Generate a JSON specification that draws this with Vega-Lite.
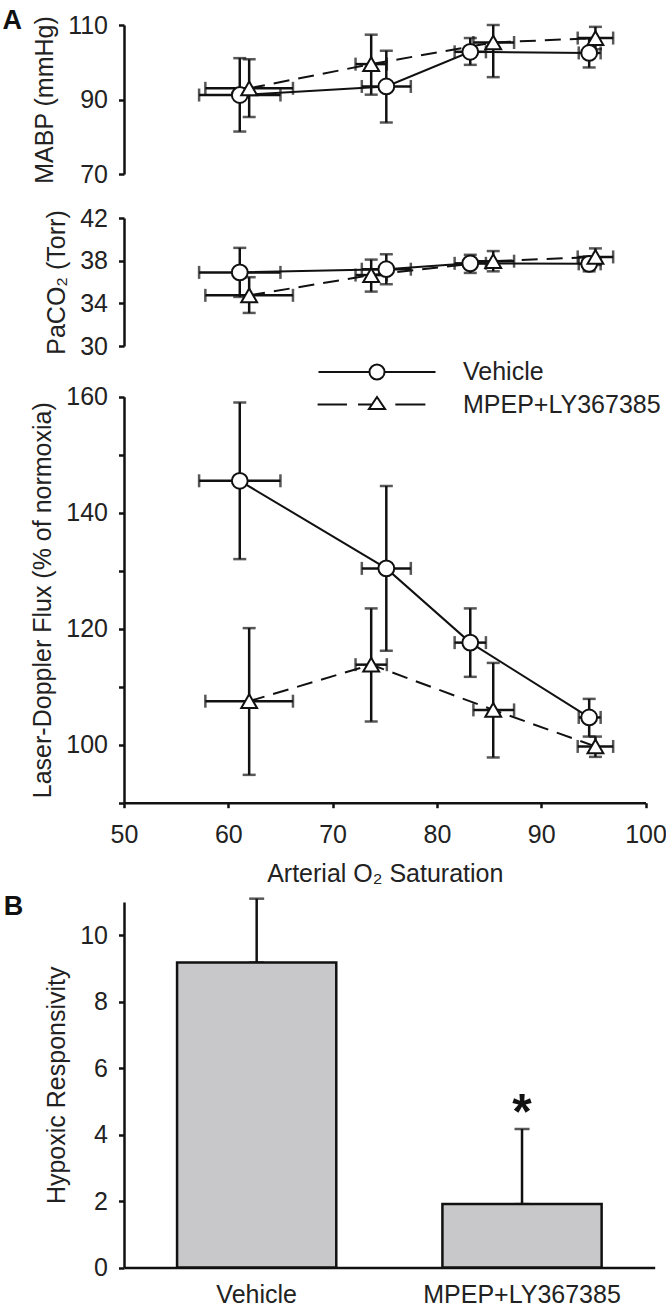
{
  "$schema": "https://vega.github.io/schema/vega-lite/v6.json",
  "padding": {"left": 2, "top": 6, "right": 5, "bottom": 5},
  "background": "white",
  "datasets": {
    "series": [
      {"g": "Vehicle", "sat": 61.1, "sat_lo": 57.2, "sat_hi": 65.0, "mabp": 91.2, "mabp_lo": 81.4, "mabp_hi": 101.1, "paco2": 36.9, "paco2_lo": 34.6, "paco2_hi": 39.2, "flux": 145.5, "flux_lo": 132.0, "flux_hi": 159.0},
      {"g": "Vehicle", "sat": 75.15, "sat_lo": 72.8, "sat_hi": 77.5, "mabp": 93.5, "mabp_lo": 83.8, "mabp_hi": 103.1, "paco2": 37.2, "paco2_lo": 35.8, "paco2_hi": 38.6, "flux": 130.4, "flux_lo": 116.2, "flux_hi": 144.6},
      {"g": "Vehicle", "sat": 83.2, "sat_lo": 81.7, "sat_hi": 84.7, "mabp": 102.8, "mabp_lo": 99.3, "mabp_hi": 106.5, "paco2": 37.75, "paco2_lo": 36.85, "paco2_hi": 38.55, "flux": 117.6, "flux_lo": 111.7, "flux_hi": 123.5},
      {"g": "Vehicle", "sat": 94.6, "sat_lo": 93.6, "sat_hi": 95.7, "mabp": 102.5, "mabp_lo": 98.6, "mabp_hi": 106.4, "paco2": 37.7, "paco2_lo": 37.0, "paco2_hi": 38.4, "flux": 104.7, "flux_lo": 101.4, "flux_hi": 107.9},
      {"g": "MPEP+LY367385", "sat": 62.0, "sat_lo": 57.8, "sat_hi": 66.2, "mabp": 93.0, "mabp_lo": 85.3, "mabp_hi": 100.8, "paco2": 34.75, "paco2_lo": 33.1, "paco2_hi": 36.45, "flux": 107.5, "flux_lo": 94.8, "flux_hi": 120.1},
      {"g": "MPEP+LY367385", "sat": 73.7, "sat_lo": 72.2, "sat_hi": 75.2, "mabp": 99.5, "mabp_lo": 91.3, "mabp_hi": 107.4, "paco2": 36.65, "paco2_lo": 35.1, "paco2_hi": 38.1, "flux": 113.8, "flux_lo": 104.0, "flux_hi": 123.5},
      {"g": "MPEP+LY367385", "sat": 85.4, "sat_lo": 83.5, "sat_hi": 87.4, "mabp": 105.3, "mabp_lo": 96.0, "mabp_hi": 110.0, "paco2": 37.95, "paco2_lo": 37.0, "paco2_hi": 38.9, "flux": 106.0, "flux_lo": 97.8, "flux_hi": 114.1},
      {"g": "MPEP+LY367385", "sat": 95.2, "sat_lo": 93.5, "sat_hi": 96.9, "mabp": 106.5, "mabp_lo": 103.5, "mabp_hi": 109.5, "paco2": 38.35, "paco2_lo": 37.6, "paco2_hi": 39.15, "flux": 99.7, "flux_lo": 97.9, "flux_hi": 101.4}
    ],
    "bars": [
      {"g": "Vehicle", "val": 9.18, "hi": 11.1, "sig": ""},
      {"g": "MPEP+LY367385", "val": 1.91, "hi": 4.17, "sig": "*"}
    ]
  },
  "data": {"name": "series"},
  "bounds": "flush",
  "spacing": 44,
  "resolve": {"scale": {"shape": "independent", "stroke": "independent"}, "legend": {"shape": "independent", "stroke": "independent"}},
  "vconcat": [
    {
      "width": 521.5,
      "height": 149,
      "title": {"text": "A", "anchor": "start", "frame": "group", "orient": "top", "fontSize": 27, "fontWeight": "bold", "font": "Liberation Sans", "baseline": "alphabetic", "offset": 0, "dx": -121.5, "dy": 42.5, "color": "#111"},
      "layer": [
        {
          "mark": {"type": "errorbar", "ticks": {"size": 13, "thickness": 2.5, "color": "#111"}, "rule": {"strokeWidth": 2.5, "color": "#111"}},
          "encoding": {
            "x": {"field": "sat", "type": "quantitative", "scale": {"domain": [50, 100], "nice": false, "zero": false}, "axis": null},
            "y": {"field": "mabp_lo", "type": "quantitative", "title": "MABP (mmHg)", "scale": {"domain": [70, 110], "nice": false, "zero": false}, "axis": {"values": [70, 75, 80, 85, 90, 95, 100, 105, 110], "labelExpr": "datum.value % 10 === 0 ? datum.label : ''"}},
            "y2": {"field": "mabp_hi"}
          }
        },
        {
          "mark": {"type": "errorbar", "ticks": {"size": 13, "thickness": 2.5, "color": "#111"}, "rule": {"strokeWidth": 2.5, "color": "#111"}},
          "encoding": {
            "x": {"field": "sat_lo", "type": "quantitative", "scale": {"domain": [50, 100], "nice": false, "zero": false}, "axis": null},
            "x2": {"field": "sat_hi"},
            "y": {"field": "mabp", "type": "quantitative", "title": "MABP (mmHg)", "scale": {"domain": [70, 110], "nice": false, "zero": false}}
          }
        },
        {
          "transform": [{"filter": "datum.g === 'Vehicle'"}],
          "mark": {"type": "line", "color": "#111", "strokeWidth": 2},
          "encoding": {
            "x": {"field": "sat", "type": "quantitative", "scale": {"domain": [50, 100], "nice": false, "zero": false}, "axis": null},
            "y": {"field": "mabp", "type": "quantitative", "title": "MABP (mmHg)", "scale": {"domain": [70, 110], "nice": false, "zero": false}}
          }
        },
        {
          "transform": [{"filter": "datum.g !== 'Vehicle'"}],
          "mark": {"type": "line", "color": "#111", "strokeWidth": 2, "strokeDash": [16, 9]},
          "encoding": {
            "x": {"field": "sat", "type": "quantitative", "scale": {"domain": [50, 100], "nice": false, "zero": false}, "axis": null},
            "y": {"field": "mabp", "type": "quantitative", "title": "MABP (mmHg)", "scale": {"domain": [70, 110], "nice": false, "zero": false}}
          }
        },
        {
          "mark": {"type": "point", "filled": true, "fill": "white", "stroke": "#111", "strokeWidth": 2, "size": 250, "opacity": 1},
          "encoding": {
            "x": {"field": "sat", "type": "quantitative", "scale": {"domain": [50, 100], "nice": false, "zero": false}, "axis": null},
            "y": {"field": "mabp", "type": "quantitative", "title": "MABP (mmHg)", "scale": {"domain": [70, 110], "nice": false, "zero": false}},
            "shape": {"field": "g", "type": "nominal", "scale": {"domain": ["Vehicle", "MPEP+LY367385"], "range": ["circle", "triangle-up"]}, "legend": null}
          }
        }
      ]
    },
    {
      "width": 521.5,
      "height": 128,
      "layer": [
        {
          "mark": {"type": "errorbar", "ticks": {"size": 13, "thickness": 2.5, "color": "#111"}, "rule": {"strokeWidth": 2.5, "color": "#111"}},
          "encoding": {
            "x": {"field": "sat", "type": "quantitative", "scale": {"domain": [50, 100], "nice": false, "zero": false}, "axis": null},
            "y": {"field": "paco2_lo", "type": "quantitative", "title": "PaCO₂ (Torr)", "scale": {"domain": [30, 42], "nice": false, "zero": false}, "axis": {"values": [30, 32, 34, 36, 38, 40, 42], "labelExpr": "(datum.value - 30) % 4 === 0 ? datum.label : ''"}},
            "y2": {"field": "paco2_hi"}
          }
        },
        {
          "mark": {"type": "errorbar", "ticks": {"size": 13, "thickness": 2.5, "color": "#111"}, "rule": {"strokeWidth": 2.5, "color": "#111"}},
          "encoding": {
            "x": {"field": "sat_lo", "type": "quantitative", "scale": {"domain": [50, 100], "nice": false, "zero": false}, "axis": null},
            "x2": {"field": "sat_hi"},
            "y": {"field": "paco2", "type": "quantitative", "title": "PaCO₂ (Torr)", "scale": {"domain": [30, 42], "nice": false, "zero": false}}
          }
        },
        {
          "transform": [{"filter": "datum.g === 'Vehicle'"}],
          "mark": {"type": "line", "color": "#111", "strokeWidth": 2},
          "encoding": {
            "x": {"field": "sat", "type": "quantitative", "scale": {"domain": [50, 100], "nice": false, "zero": false}, "axis": null},
            "y": {"field": "paco2", "type": "quantitative", "title": "PaCO₂ (Torr)", "scale": {"domain": [30, 42], "nice": false, "zero": false}}
          }
        },
        {
          "transform": [{"filter": "datum.g !== 'Vehicle'"}],
          "mark": {"type": "line", "color": "#111", "strokeWidth": 2, "strokeDash": [16, 9]},
          "encoding": {
            "x": {"field": "sat", "type": "quantitative", "scale": {"domain": [50, 100], "nice": false, "zero": false}, "axis": null},
            "y": {"field": "paco2", "type": "quantitative", "title": "PaCO₂ (Torr)", "scale": {"domain": [30, 42], "nice": false, "zero": false}}
          }
        },
        {
          "mark": {"type": "point", "filled": true, "fill": "white", "stroke": "#111", "strokeWidth": 2, "size": 250, "opacity": 1},
          "encoding": {
            "x": {"field": "sat", "type": "quantitative", "scale": {"domain": [50, 100], "nice": false, "zero": false}, "axis": null},
            "y": {"field": "paco2", "type": "quantitative", "title": "PaCO₂ (Torr)", "scale": {"domain": [30, 42], "nice": false, "zero": false}},
            "shape": {"field": "g", "type": "nominal", "scale": {"domain": ["Vehicle", "MPEP+LY367385"], "range": ["circle", "triangle-up"]}, "legend": null}
          }
        }
      ]
    },
    {
      "width": 521.5,
      "height": 412.7,
      "resolve": {"scale": {"stroke": "independent"}, "legend": {"stroke": "independent"}},
      "layer": [
        {
          "mark": {"type": "errorbar", "ticks": {"size": 13, "thickness": 2.5, "color": "#111"}, "rule": {"strokeWidth": 2.5, "color": "#111"}},
          "encoding": {
            "x": {"field": "sat", "type": "quantitative", "title": "Arterial O₂ Saturation", "scale": {"domain": [50, 100], "nice": false, "zero": false}, "axis": {"values": [50, 60, 70, 80, 90, 100], "tickSize": 5, "labelPadding": 15, "titlePadding": 14}},
            "y": {"field": "flux_lo", "type": "quantitative", "title": "Laser-Doppler Flux (% of normoxia)", "scale": {"domain": [90, 160], "nice": false, "zero": false, "range": [412.7, 6.7]}, "axis": {"values": [90, 100, 110, 120, 130, 140, 150, 160], "labelExpr": "datum.value % 20 === 0 ? datum.label : ''"}},
            "y2": {"field": "flux_hi"}
          }
        },
        {
          "mark": {"type": "errorbar", "ticks": {"size": 13, "thickness": 2.5, "color": "#111"}, "rule": {"strokeWidth": 2.5, "color": "#111"}},
          "encoding": {
            "x": {"field": "sat_lo", "type": "quantitative", "title": "Arterial O₂ Saturation", "scale": {"domain": [50, 100], "nice": false, "zero": false}},
            "x2": {"field": "sat_hi"},
            "y": {"field": "flux", "type": "quantitative", "title": "Laser-Doppler Flux (% of normoxia)", "scale": {"domain": [90, 160], "nice": false, "zero": false, "range": [412.7, 6.7]}}
          }
        },
        {
          "transform": [{"filter": "datum.g === 'Vehicle'"}],
          "mark": {"type": "line", "color": "#111", "strokeWidth": 2},
          "encoding": {
            "x": {"field": "sat", "type": "quantitative", "title": "Arterial O₂ Saturation", "scale": {"domain": [50, 100], "nice": false, "zero": false}},
            "y": {"field": "flux", "type": "quantitative", "title": "Laser-Doppler Flux (% of normoxia)", "scale": {"domain": [90, 160], "nice": false, "zero": false, "range": [412.7, 6.7]}}
          }
        },
        {
          "transform": [{"filter": "datum.g !== 'Vehicle'"}],
          "mark": {"type": "line", "color": "#111", "strokeWidth": 2, "strokeDash": [16, 9]},
          "encoding": {
            "x": {"field": "sat", "type": "quantitative", "title": "Arterial O₂ Saturation", "scale": {"domain": [50, 100], "nice": false, "zero": false}},
            "y": {"field": "flux", "type": "quantitative", "title": "Laser-Doppler Flux (% of normoxia)", "scale": {"domain": [90, 160], "nice": false, "zero": false, "range": [412.7, 6.7]}}
          }
        },
        {
          "transform": [{"filter": "datum.g === 'Vehicle'"}],
          "mark": {"type": "point", "shape": "circle", "filled": true, "fill": "white", "strokeWidth": 2, "size": 250, "opacity": 1},
          "encoding": {
            "x": {"field": "sat", "type": "quantitative", "title": "Arterial O₂ Saturation", "scale": {"domain": [50, 100], "nice": false, "zero": false}},
            "y": {"field": "flux", "type": "quantitative", "title": "Laser-Doppler Flux (% of normoxia)", "scale": {"domain": [90, 160], "nice": false, "zero": false, "range": [412.7, 6.7]}},
            "stroke": {
              "field": "g", "type": "nominal",
              "scale": {"domain": ["Vehicle"], "range": ["#111111"]},
              "legend": {
                "orient": "none", "legendX": 239, "legendY": -32, "title": null, "padding": 0,
                "labelOffset": 72, "labelFontSize": 25, "labelFont": "Liberation Sans", "labelColor": "#222", "labelLimit": 400,
                "symbolSize": 676, "symbolStrokeWidth": 2, "symbolFillColor": "white",
                "symbolType": "M-4.5,0H-0.58M0.58,0H4.5M0.58,0A0.58,0.58,0,1,1,-0.58,0A0.58,0.58,0,1,1,0.58,0Z"
              }
            }
          }
        },
        {
          "transform": [{"filter": "datum.g !== 'Vehicle'"}],
          "mark": {"type": "point", "shape": "triangle-up", "filled": true, "fill": "white", "strokeWidth": 2, "size": 250, "opacity": 1},
          "encoding": {
            "x": {"field": "sat", "type": "quantitative", "title": "Arterial O₂ Saturation", "scale": {"domain": [50, 100], "nice": false, "zero": false}},
            "y": {"field": "flux", "type": "quantitative", "title": "Laser-Doppler Flux (% of normoxia)", "scale": {"domain": [90, 160], "nice": false, "zero": false, "range": [412.7, 6.7]}},
            "stroke": {
              "field": "g", "type": "nominal",
              "scale": {"domain": ["MPEP+LY367385"], "range": ["#111111"]},
              "legend": {
                "orient": "none", "legendX": 239, "legendY": 0.5, "title": null, "padding": 0,
                "labelOffset": 72, "labelFontSize": 25, "labelFont": "Liberation Sans", "labelColor": "#222", "labelLimit": 400,
                "symbolSize": 676, "symbolStrokeWidth": 2, "symbolFillColor": "white",
                "symbolType": "M-4.57,0H-2.31M-1.46,0H-0.39M0,-0.58L0.62,0.35L-0.62,0.35ZM1.41,0H3.72"
              }
            }
          }
        }
      ]
    },
    {
      "width": 530.7,
      "height": 420.6,
      "data": {"name": "bars"},
      "title": {"text": "B", "anchor": "start", "frame": "group", "orient": "top", "fontSize": 27, "fontWeight": "bold", "font": "Liberation Sans", "baseline": "alphabetic", "offset": 0, "dx": -120.2, "dy": 95.3, "color": "#111"},
      "layer": [
        {
          "mark": {"type": "errorbar", "ticks": {"size": 15, "thickness": 2.5, "color": "#111"}, "rule": {"strokeWidth": 2.5, "color": "#111"}},
          "encoding": {
            "x": {"field": "g", "type": "nominal", "sort": null, "title": null, "scale": {"domain": ["Vehicle", "MPEP+LY367385"], "paddingInner": 0.4, "paddingOuter": 0.2}, "axis": {"ticks": false, "tickSize": 0, "labelPadding": 15, "labelAngle": 0, "labelLimit": 400}},
            "y": {"field": "val", "type": "quantitative", "title": "Hypoxic Responsivity", "scale": {"domain": [0, 11], "nice": false, "zero": true, "range": [420.6, 55]}, "axis": {"values": [0, 1, 2, 3, 4, 5, 6, 7, 8, 9, 10, 11], "labelExpr": "datum.value % 2 === 0 ? datum.label : ''"}},
            "y2": {"field": "hi"}
          }
        },
        {
          "mark": {"type": "bar", "fill": "#c8c8ca", "stroke": "#111", "strokeWidth": 2.5},
          "encoding": {
            "x": {"field": "g", "type": "nominal", "sort": null, "title": null, "scale": {"domain": ["Vehicle", "MPEP+LY367385"], "paddingInner": 0.4, "paddingOuter": 0.2}},
            "y": {"field": "val", "type": "quantitative", "title": "Hypoxic Responsivity", "scale": {"domain": [0, 11], "nice": false, "zero": true, "range": [420.6, 55]}}
          }
        },
        {
          "mark": {"type": "text", "fontSize": 50, "fontWeight": "bold", "baseline": "alphabetic", "dy": 0, "color": "#111", "font": "Liberation Sans"},
          "encoding": {
            "x": {"field": "g", "type": "nominal", "sort": null, "title": null, "scale": {"domain": ["Vehicle", "MPEP+LY367385"], "paddingInner": 0.4, "paddingOuter": 0.2}},
            "y": {"field": "hi", "type": "quantitative", "title": "Hypoxic Responsivity", "scale": {"domain": [0, 11], "nice": false, "zero": true, "range": [420.6, 55]}},
            "text": {"field": "sig"}
          }
        }
      ]
    }
  ],
  "config": {
    "font": "Liberation Sans",
    "view": {"stroke": null},
    "axis": {
      "domainColor": "#111", "domainWidth": 2.5, "tickColor": "#111", "tickWidth": 2.5, "tickSize": 5.5,
      "labelFontSize": 25, "labelColor": "#222", "labelFont": "Liberation Sans", "labelPadding": 11,
      "labelFlush": false, "labelOverlap": false,
      "titleFontSize": 25, "titleFontWeight": "normal", "titleColor": "#222", "titleFont": "Liberation Sans", "titlePadding": 10,
      "grid": false
    }
  }
}
